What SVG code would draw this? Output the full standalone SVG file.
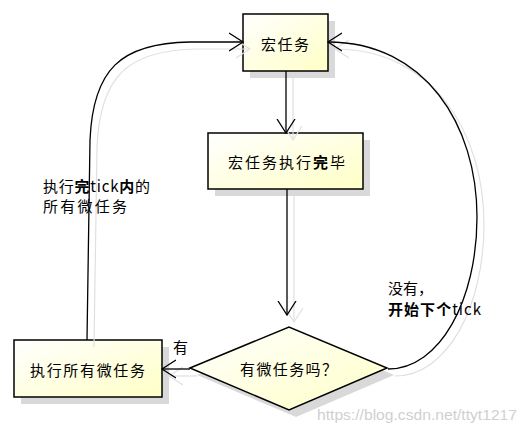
<svg xmlns="http://www.w3.org/2000/svg" width="527" height="434" viewBox="0 0 527 434">
<style>
.node{stroke:#000;stroke-width:1.5;fill:url(#g)}
.shadow{fill:#d9d9d9;stroke:none}
.t{font-family:"Noto Sans CJK SC","Liberation Sans",sans-serif;font-size:15px;fill:#000}
.b{font-weight:bold}
.c{fill:none;stroke:#000;stroke-width:1.3;marker-end:url(#a)}
.cs{fill:none;stroke:#e0e0e0;stroke-width:1.2;marker-end:url(#as)}
.wm{font-family:"Liberation Sans",Arial,sans-serif;font-size:15px;fill:#d0d0d0}
</style>
<defs>
<linearGradient id="g" x1="0" y1="0" x2="1" y2="1">
<stop offset="0" stop-color="#ffffff"/>
<stop offset="1" stop-color="#ffffc6"/>
</linearGradient>
<marker id="a" markerUnits="userSpaceOnUse" viewBox="0 0 16 20" refX="14" refY="10" markerWidth="16" markerHeight="20" orient="auto">
<path d="M0,1 L14,10 L0,19" fill="none" stroke="#000" stroke-width="1.3"/>
</marker>
<marker id="as" markerUnits="userSpaceOnUse" viewBox="0 0 16 20" refX="14" refY="10" markerWidth="16" markerHeight="20" orient="auto">
<path d="M0,1 L14,10 L0,19" fill="none" stroke="#e0e0e0" stroke-width="1.2"/>
</marker>
</defs>
<rect width="527" height="434" fill="#fff"/>
<g id="macro">
<rect class="shadow" x="250" y="21" width="85" height="57"/>
<rect class="node" x="243" y="14" width="85" height="57"/>
<text class="t" x="285" y="50" text-anchor="middle" textLength="48" lengthAdjust="spacing">宏任务</text>
</g>
<g id="macro-done">
<rect class="shadow" x="215" y="140" width="155" height="56"/>
<rect class="node" x="208" y="133" width="155" height="56"/>
<text class="t" x="228" y="168" textLength="117" lengthAdjust="spacing">宏任务执行<tspan class="b">完</tspan>毕</text>
</g>
<g id="run-micro">
<rect class="shadow" x="21" y="347" width="148" height="57"/>
<rect class="node" x="14" y="340" width="148" height="57"/>
<text class="t" x="30" y="376" textLength="115" lengthAdjust="spacing">执行所有微任务</text>
</g>
<g id="has-micro">
<polygon class="shadow" points="197,375 296,334 394,375 296,417"/>
<polygon class="node" points="190,368 289,327 387,368 289,410"/>
<text class="t" x="240" y="375" textLength="97" lengthAdjust="spacing">有微任务吗？</text>
</g>
<g id="connectors">
<g transform="translate(7,7)">
<path class="cs" d="M87,340 L90,140 C93,70 120,43 190,42 L243,42"/>
<path class="cs" d="M286,71 L286,133"/>
<path class="cs" d="M287,189 L287,315"/>
<path class="cs" d="M190,369 L162,369"/>
<path class="cs" d="M388,369 C440,369 477,300 477,217 C477,125 425,42 328,42"/>
</g>
<path class="c" d="M87,340 L90,140 C93,70 120,43 190,42 L243,42"/>
<path class="c" d="M286,71 L286,133"/>
<path class="c" d="M287,189 L287,315"/>
<path class="c" d="M190,369 L162,369"/>
<path class="c" d="M388,369 C440,369 477,300 477,217 C477,125 425,42 328,42"/>
</g>
<g id="labels">
<text class="t" x="43" y="192" textLength="107" lengthAdjust="spacing">执行<tspan class="b">完</tspan>tick<tspan class="b">内</tspan>的</text>
<text class="t" x="43" y="212" textLength="84" lengthAdjust="spacing">所有微任务</text>
<text class="t" x="173" y="353">有</text>
<text class="t" x="388" y="294">没有，</text>
<text class="t" x="388" y="315" textLength="93" lengthAdjust="spacing"><tspan class="b">开始下个</tspan>tick</text>
</g>
<text class="wm" x="317" y="420" textLength="200" lengthAdjust="spacingAndGlyphs">https://blog.csdn.net/ttyt1217</text>
</svg>
